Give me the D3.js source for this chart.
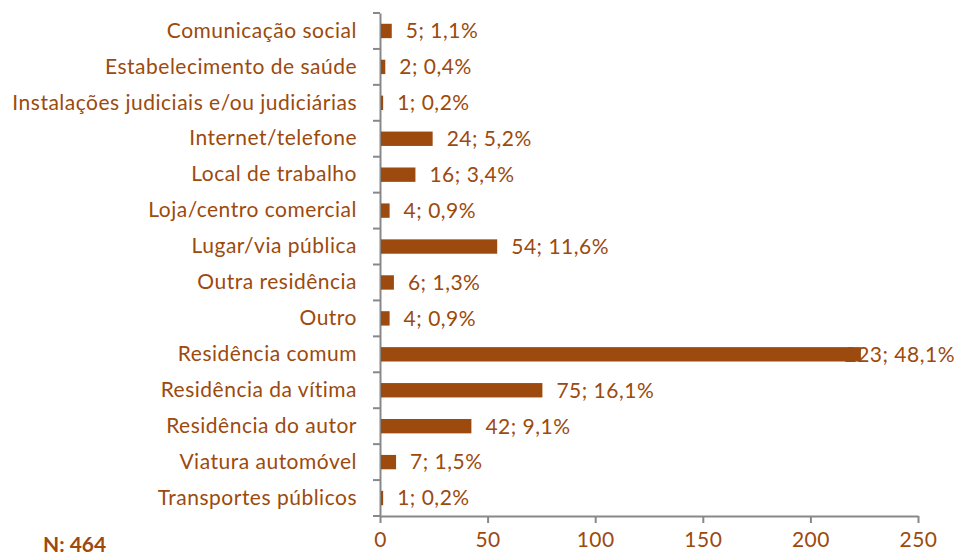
<html lang="pt">
<head>
  <meta charset="UTF-8">
  <title>Local da ocorrência</title>
  <style>
    body { margin: 0; background: #fff; }
    text { font-family: Lato, "Open Sans", sans-serif; }
  </style>
</head>
<body>
  <script src="https://d3js.org/d3.v7.min.js"></script>
  <div id="chart"></div>
  <script>
    // data
    let categories = ["Comunicação social", "Estabelecimento de saúde", "Instalações judiciais e/ou judiciárias",
      "Internet/telefone", "Local de trabalho", "Loja/centro comercial", "Lugar/via pública", "Outra residência",
      "Outro", "Residência comum", "Residência da vítima", "Residência do autor", "Viatura automóvel",
      "Transportes públicos"];
    let counts = [5, 2, 1, 24, 16, 4, 54, 6, 4, 223, 75, 42, 7, 1];
    let percents = ["1,1", "0,4", "0,2", "5,2", "3,4", "0,9", "11,6", "1,3", "0,9", "48,1", "16,1", "9,1", "1,5", "0,2"];
    let xTicks = [0, 50, 100, 150, 200, 250];
    let total = "N: 464";

    function translate(x, y) { return 'translate(' + x + ',' + y + ')'; }

    let W = 959, H = 557;
    let margin = { top: 13, right: 41, bottom: 41, left: 380 },
      width = W - margin.left - margin.right,
      height = H - margin.top - margin.bottom;

    let brown = "#9c4a0e", grey = "#888888";
    let fontSize = "21px", spacing = "0.5px";

    let data = categories.map((c, i) => ({ cat: c, n: counts[i], pct: percents[i] }));

    let svg = d3.select("#chart").append("svg")
      .attr("width", W).attr("height", H);
    let g = svg.append("g").attr("transform", translate(margin.left, margin.top));

    let x = d3.scaleLinear().domain([0, 250]).range([0, width]);
    let y = d3.scaleBand().domain(categories).range([0, height]).paddingInner(0.6).paddingOuter(0.3);

    // x axis
    let xa = g.append("g").attr("transform", translate(0, height))
      .call(d3.axisBottom(x).tickValues(xTicks).tickSize(7).tickPadding(9).tickSizeOuter(0));
    xa.select(".domain").attr("stroke", grey).attr("stroke-width", 2);
    xa.selectAll(".tick line").attr("stroke", grey).attr("stroke-width", 2);
    xa.selectAll(".tick text").attr("fill", brown)
      .style("font-size", fontSize).style("letter-spacing", spacing);

    // category axis, tick marks sit between the bands
    let ya = g.append("g").call(d3.axisLeft(y).tickSize(0).tickPadding(23));
    ya.select(".domain").attr("stroke", grey).attr("stroke-width", 2);
    ya.selectAll(".tick text").attr("fill", brown)
      .style("font-size", fontSize).style("letter-spacing", spacing);
    let step = y.step();
    let bounds = d3.range(categories.length + 1).map(i => i * step);
    g.append("g").selectAll("line").data(bounds).join("line")
      .attr("x1", -7).attr("x2", 0)
      .attr("y1", d => d).attr("y2", d => d)
      .attr("stroke", grey).attr("stroke-width", 2);

    // value labels first, bars on top (the long one gets pushed back inside the chart)
    let lab = g.append("g").selectAll("text").data(data).join("text")
      .attr("y", d => y(d.cat) + y.bandwidth() / 2)
      .attr("dy", "0.35em")
      .attr("fill", brown)
      .style("font-size", fontSize).style("letter-spacing", spacing)
      .text(d => d.n + "; " + d.pct + "%");
    lab.each(function(d) {
      let w = this.getComputedTextLength();
      let x0 = x(d.n) + 15;
      if (margin.left + x0 + w > W - 4) x0 = W - 4 - margin.left - w;
      d3.select(this).attr("x", x0);
    });

    g.append("g").selectAll("rect").data(data).join("rect")
      .attr("x", 1)
      .attr("y", d => y(d.cat))
      .attr("width", d => x(d.n))
      .attr("height", y.bandwidth())
      .attr("fill", brown);

    svg.append("text")
      .attr("x", 43).attr("y", 545).attr("dy", "0.35em")
      .attr("fill", brown)
      .style("font-size", fontSize).style("font-weight", "bold")
      .text(total);
  </script>
</body>
</html>
